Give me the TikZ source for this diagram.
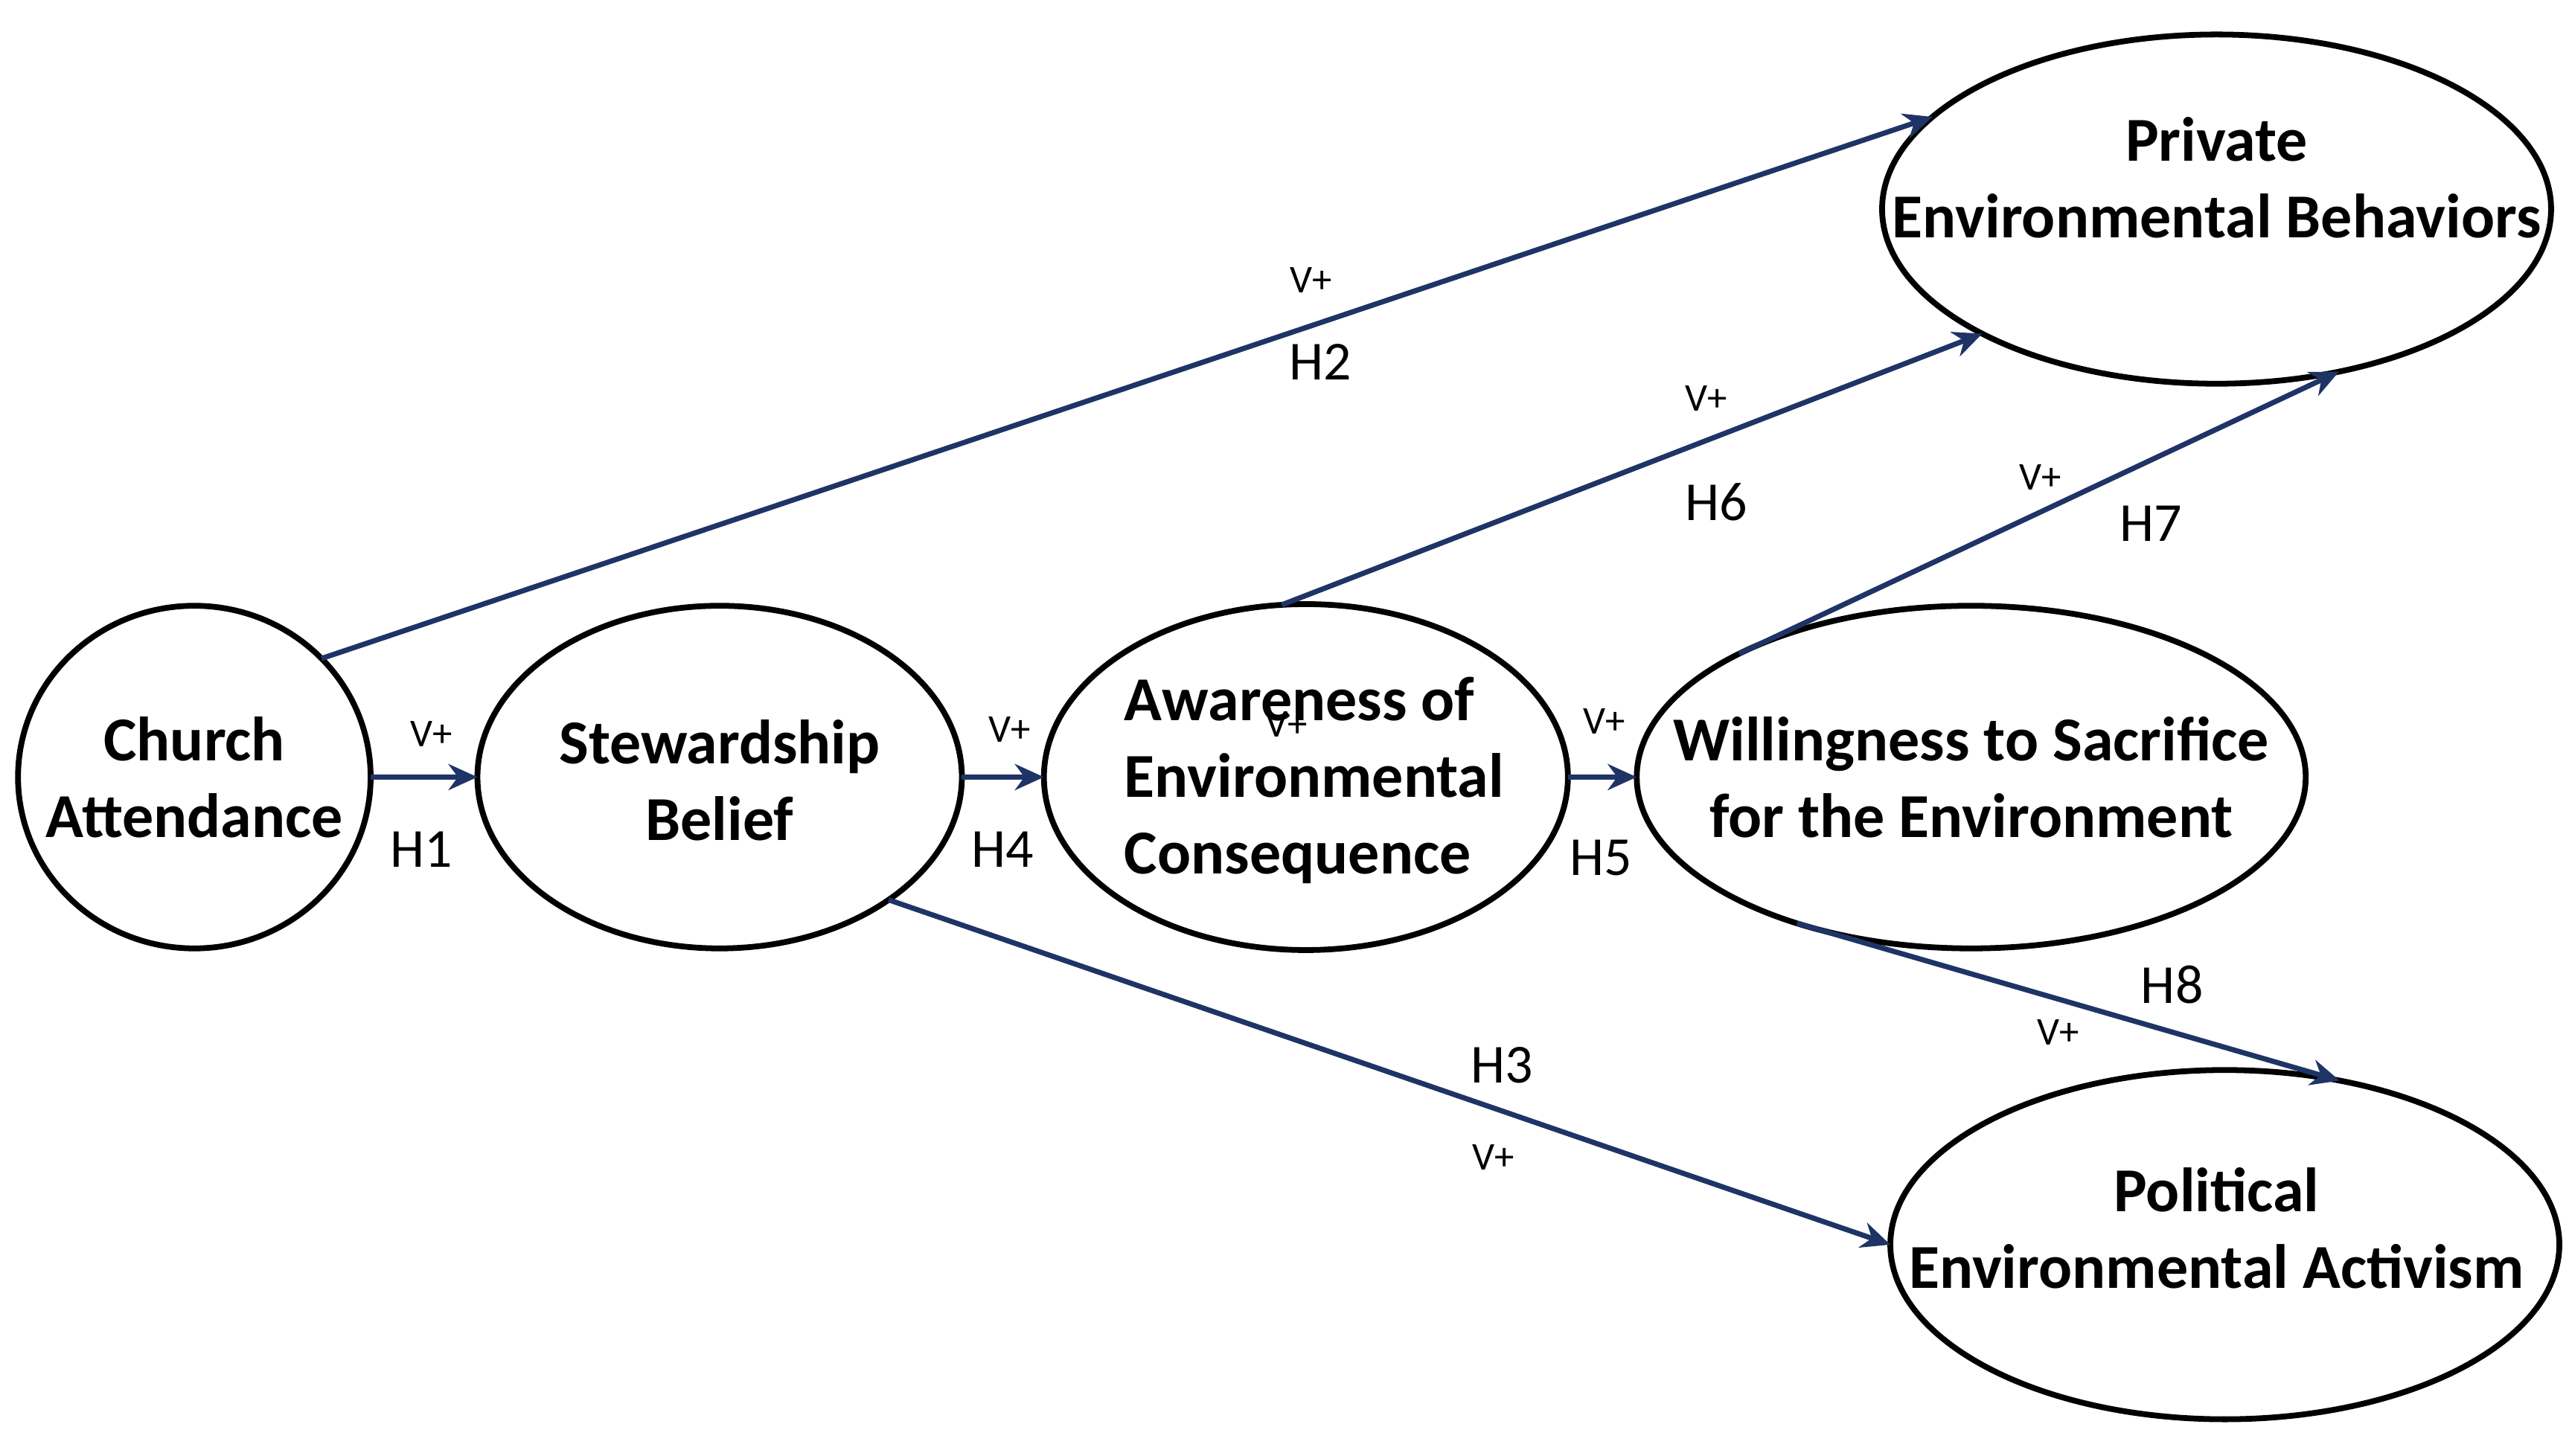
\documentclass[tikz,border=0pt]{standalone}
\usepackage{fontspec}
\setmainfont{Carlito}
\usetikzlibrary{shapes.geometric,arrows.meta}
\begin{document}
\begin{tikzpicture}[x=0.01cm,y=-0.01cm,
  el/.style={draw,ellipse,line width=1pt,inner sep=0pt,outer sep=0pt},
  tx/.style={font=\fontsize{10.8}{13.2}\selectfont\bfseries,align=center,inner sep=0pt},
  ar/.style={draw=arrc,line width=0.9pt,-{Stealth[length=5pt,width=4.5pt]}},
  v/.style={font=\fontsize{6.8}{8}\selectfont},
  h/.style={font=\fontsize{9.5}{10}\selectfont}]
\definecolor{arrc}{HTML}{1F3466}
\useasboundingbox (0,0) rectangle (1560,884);
\node[el,minimum width=2.14cm,minimum height=2.08cm] (ch) at (118,472) {};
\node[el,minimum width=2.94cm,minimum height=2.08cm] (st) at (437,472) {};
\node[el,minimum width=3.18cm,minimum height=2.1cm] (aw) at (793,472) {};
\node[el,minimum width=4.06cm,minimum height=2.08cm] (wi) at (1197,472) {};
\node[el,minimum width=4.06cm,minimum height=2.12cm] (pr) at (1346,127) {};
\node[el,minimum width=4.06cm,minimum height=2.12cm] (po) at (1351,756) {};
\node[tx] (tch) at (ch.center) {Church\\Attendance};
\node[tx] (tst) at (437,474) {Stewardship\\Belief};
\node[tx,align=left] (taw) at (798,474) {Awareness of\\Environmental\\Consequence};
\node[tx] (twi) at (1197,472) {Willingness to Sacrifice\\for the Environment};
\node[tx] (tpr) at (1346,108) {Private\\Environmental Behaviors};
\node[tx] (tpo) at (1346,746) {Political\\Environmental Activism};
\draw[ar] (ch.east) -- (st.west);
\draw[ar] (st.east) -- (aw.west);
\draw[ar] (aw.east) -- (wi.west);
\draw[ar] (ch.43) -- (pr.162);
\draw[ar] (aw.98) -- (pr.208);
\draw[ar] (wi.152) -- (pr.307);
\draw[ar] (st.324) -- (po.180);
\draw[ar] (wi.220) -- (po.55);
\node[v] (v2) at (796,170) {V+}; \node[h] (h2) at (802,220) {H2};
\node[v] (v6) at (1036,242) {V+}; \node[h] (h6) at (1042,305) {H6};
\node[v] (v7) at (1239,290) {V+}; \node[h] (h7) at (1306,318) {H7};
\node[v] (v1) at (262,446) {V+}; \node[h] (h1) at (256,516) {H1};
\node[v] (v4) at (613,443) {V+}; \node[h] (h4) at (609,516) {H4};
\node[v] (va) at (781,440) {V+};
\node[v] (v5) at (974,438) {V+}; \node[h] (h5) at (972,521) {H5};
\node[h] (h8) at (1319,598) {H8}; \node[v] (v8) at (1250,627) {V+};
\node[h] (h3) at (912,647) {H3}; \node[v] (v3) at (907,703) {V+};
\end{tikzpicture}
\end{document}
